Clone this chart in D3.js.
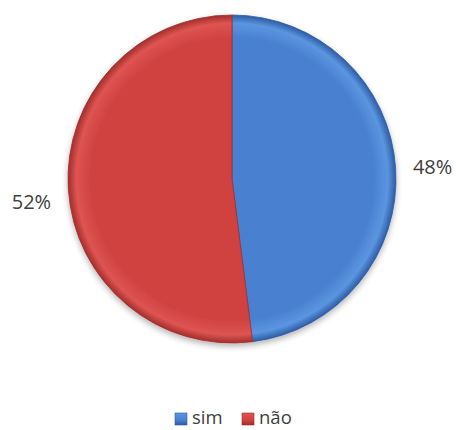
<!DOCTYPE html>
<html>
<head>
<meta charset="utf-8">
<script src="https://cdn.jsdelivr.net/npm/d3@7"></script>
<style>
  html, body { margin: 0; padding: 0; background: #fff; }
  svg { display: block; }
</style>
</head>
<body>
<svg id="chart" width="456" height="430"></svg>
<script>
// Survey answers and their shares (percent)
const categories = ["sim", "não"];
const values = [48, 52];
const labels = ["48%", "52%"];

const fills = {
  "sim": { light: "#5b95e0", mid: "#4880d0", dark: "#2d5ca3" },
  "não": { light: "#de5451", mid: "#cf4240", dark: "#a22e2c" }
};

const svg = d3.select("#chart");
const cx = 232, cy = 179, r = 164;
const font = "'Open Sans', 'Noto Sans', sans-serif";

const defs = svg.append("defs");
categories.forEach((c, i) => {
  const g = defs.append("radialGradient")
    .attr("id", "grad" + i)
    .attr("gradientUnits", "userSpaceOnUse")
    .attr("cx", 0).attr("cy", 0).attr("r", r);
  g.append("stop").attr("offset", "0%").attr("stop-color", fills[c].mid);
  g.append("stop").attr("offset", "86%").attr("stop-color", fills[c].mid);
  g.append("stop").attr("offset", "95%").attr("stop-color", fills[c].light);
  g.append("stop").attr("offset", "100%").attr("stop-color", fills[c].dark);

  const lg = defs.append("linearGradient").attr("id", "key" + i)
    .attr("x1", 0).attr("y1", 0).attr("x2", 0).attr("y2", 1);
  lg.append("stop").attr("offset", "0%").attr("stop-color", fills[c].light);
  lg.append("stop").attr("offset", "60%").attr("stop-color", fills[c].mid);
  lg.append("stop").attr("offset", "100%").attr("stop-color", fills[c].dark);
});
const sh = defs.append("filter").attr("id", "shadow")
  .attr("x", "-20%").attr("y", "-20%").attr("width", "140%").attr("height", "140%");
sh.append("feGaussianBlur").attr("in", "SourceAlpha").attr("stdDeviation", 3);
sh.append("feOffset").attr("dx", 0).attr("dy", 3).attr("result", "b");
sh.append("feComponentTransfer").append("feFuncA").attr("type", "linear").attr("slope", 0.3);
const m = sh.append("feMerge");
m.append("feMergeNode");
m.append("feMergeNode").attr("in", "SourceGraphic");

const pie = d3.pie().sort(null).value(d => d.value);
const arcs = pie(categories.map((c, i) => ({ cat: c, value: values[i], label: labels[i] })));
const arc = d3.arc().innerRadius(0).outerRadius(r);

const g = svg.append("g").attr("transform", `translate(${cx},${cy})`).attr("filter", "url(#shadow)");
g.selectAll("path.slice")
  .data(arcs)
  .join("path")
  .attr("class", "slice")
  .attr("d", arc)
  .attr("fill", (d, i) => `url(#grad${i})`)
  .attr("stroke", (d) => fills[d.data.cat].dark)
  .attr("stroke-width", 0.8);

// Percentage labels outside the slices (best-fit placement nudges them vertically)
const labelArc = d3.arc().innerRadius(r + 37).outerRadius(r + 37);
const nudge = [0, 10];
svg.append("g").attr("transform", `translate(${cx},${cy})`)
  .selectAll("text")
  .data(arcs)
  .join("text")
  .attr("x", d => labelArc.centroid(d)[0])
  .attr("y", (d, i) => labelArc.centroid(d)[1] + nudge[i])
  .attr("text-anchor", "middle")
  .attr("dominant-baseline", "central")
  .attr("font-family", font)
  .attr("font-size", 20)
  .attr("fill", "#404040")
  .text(d => d.data.label);

// Legend
const legend = svg.append("g").attr("transform", "translate(175,410)");
const offsets = [0, 67];
categories.forEach((c, i) => {
  const item = legend.append("g").attr("transform", `translate(${offsets[i]},0)`);
  item.append("rect").attr("x", 0).attr("y", 3).attr("width", 12).attr("height", 12)
    .attr("fill", `url(#key${i})`).attr("stroke", fills[c].dark).attr("stroke-width", 0.6);
  item.append("text").attr("x", 17).attr("y", 14)
    .attr("font-family", font).attr("font-size", 18.5).attr("fill", "#404040")
    .text(c);
});
</script>
</body>
</html>
